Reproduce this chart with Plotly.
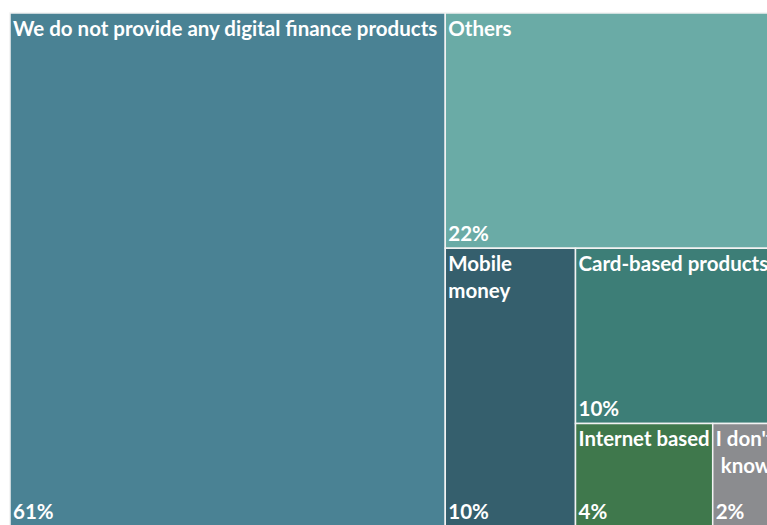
import plotly.graph_objects as go

labels = ["We do not provide any digital finance products", "Others", "Mobile<br>money",
          "Card-based products", "Internet based", "I don't<br> know"]
values = [61.1, 21.8, 9.9, 10.0, 3.85, 2.0]
pct_text = ["61%", "22%", "10%", "10%", "4%", "2%"]
colors = ["#4a8294", "#6aaba6", "#355f6d", "#3d7e77", "#3f784c", "#8b8c8f"]
parents = [""] * len(labels)
ids = ["a", "b", "c", "d", "e", "f"]

font = dict(family="Lato, 'Open Sans', sans-serif", size=20.5, color="white")

common = dict(ids=ids, labels=labels, parents=parents, values=values, sort=False,
              tiling=dict(packing="binary", pad=0), pathbar=dict(visible=False),
              hoverinfo="skip", domain=dict(x=[0, 1], y=[0, 1]))

fig = go.Figure()
fig.add_trace(go.Treemap(**common,
                         marker=dict(colors=colors, line=dict(color="#f2f2f2", width=1.5),
                                     pad=dict(t=0, l=0, r=0, b=0)),
                         texttemplate="<b>%{label}</b>", textposition="top left",
                         textfont=font))
fig.add_trace(go.Treemap(**common, text=pct_text,
                         marker=dict(colors=["rgba(0,0,0,0)"] * 6, line=dict(width=0),
                                     pad=dict(t=0, l=0, r=0, b=0)),
                         texttemplate="<b>%{text}</b>", textposition="bottom left",
                         textfont=font))

fig.update_layout(width=785, height=527, autosize=False,
                  margin=dict(l=10, r=1, t=13, b=1),
                  paper_bgcolor="white", showlegend=False)

fig.write_html("out.html", config=dict(displayModeBar=False),
               post_script="document.body.style.overflow='hidden';document.body.style.margin='0';")
